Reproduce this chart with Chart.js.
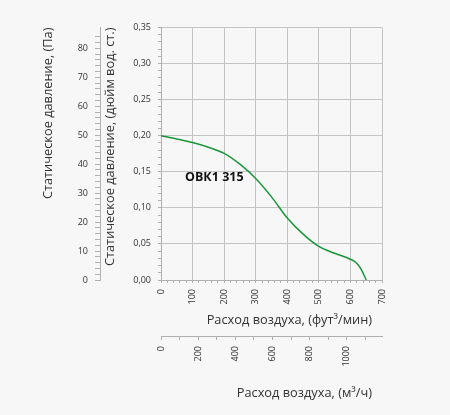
<!DOCTYPE html>
<html>
<head>
<meta charset="utf-8">
<script src="https://cdn.jsdelivr.net/npm/chart.js@4/dist/chart.umd.min.js"></script>
<style>
  html, body { margin: 0; padding: 0; background: #f7f7f7; }
  #wrap { width: 450px; height: 415px; }
</style>
</head>
<body>
<div id="wrap"><canvas id="fan-chart"></canvas></div>
<script>
// fan curve: airflow (ft3/min) vs static pressure (in. wc)
const airflowCfm   = [0, 50, 100, 150, 200, 250, 300, 350, 400, 450, 500, 550, 600, 620, 635, 650];
const pressureInWc = [0.200, 0.1955, 0.1905, 0.184, 0.1755, 0.1605, 0.1407, 0.1152, 0.0859,
                      0.0636, 0.0465, 0.0370, 0.0288, 0.0233, 0.0140, 0.000];
const curveName = "ОВК1 315";
const curveNameAt = [76, 0.1426];   // x in cfm, y in in. wc

const cfmTicks = [0, 700, 100, 20];      // min, max, major, minor
const inWcTicks = [0, 0.35, 0.05, 0.01];
const paTicks = [10, 2];
const m3hTicks = [200, 100];

const CFM_TO_M3H = 1.699;
const INWC_TO_PA = 249.09;

const gridColor = "#c4c4c4";
const axisColor = "#b0b0b0";
const textColor = "#333";
const fontFam = "'Open Sans', sans-serif";
const titleSize = 12.8;
const pad = "\u00a0\u00a0\u00a0";   // nudges the bottom titles off the right edge

const isMult = (v, step) => Math.abs(v / step - Math.round(v / step)) < 1e-6;
const comma = v => v.toFixed(2).replace(".", ",");

Chart.defaults.font.family = fontFam;
Chart.defaults.color = textColor;

const bgPlugin = {
  id: "bg",
  beforeDraw(chart) {
    const c = chart.ctx;
    c.save();
    c.fillStyle = "#f7f7f7";
    c.fillRect(0, 0, chart.width, chart.height);
    c.restore();
  }
};

const namePlugin = {
  id: "curveName",
  afterDatasetsDraw(chart) {
    const c = chart.ctx;
    const px = chart.scales.x.getPixelForValue(curveNameAt[0]);
    const py = chart.scales.y.getPixelForValue(curveNameAt[1]);
    c.save();
    c.font = "bold 12.5px " + fontFam;
    c.fillStyle = "#111";
    c.textAlign = "left";
    c.textBaseline = "middle";
    c.fillText(curveName, px, py);
    c.restore();
  }
};

new Chart(document.getElementById("fan-chart"), {
  type: "line",
  data: {
    datasets: [{
      label: curveName,
      data: airflowCfm.map((x, i) => ({ x: x, y: pressureInWc[i] })),
      borderColor: "#1a963a",
      borderWidth: 1.5,
      pointRadius: 0,
      cubicInterpolationMode: "monotone",
      fill: false
    }]
  },
  options: {
    responsive: true,
    maintainAspectRatio: false,
    animation: false,
    layout: { padding: { left: 40, right: 68, top: 27.5, bottom: 13 } },
    plugins: { legend: { display: false }, tooltip: { enabled: false } },
    scales: {
      x: {
        type: "linear", position: "bottom",
        min: cfmTicks[0], max: cfmTicks[1],
        afterFit: s => { s.height = 56; },
        ticks: {
          stepSize: cfmTicks[3], autoSkip: false, minRotation: 90, maxRotation: 90,
          padding: 6, font: { size: 9 },
          callback: v => isMult(v, cfmTicks[2]) ? Math.round(v) : ""
        },
        grid: {
          color: c => c.tick && isMult(c.tick.value, cfmTicks[2]) ? gridColor : "transparent",
          tickColor: axisColor, tickLength: 3
        },
        border: { color: axisColor },
        title: {
          display: true, text: "Расход воздуха, (фут³/мин)" + pad, align: "end",
          font: { size: titleSize }, padding: { top: 0, bottom: 8.3 }
        }
      },
      x2: {
        type: "linear", position: "bottom",
        min: cfmTicks[0] * CFM_TO_M3H, max: cfmTicks[1] * CFM_TO_M3H,
        afterFit: s => { s.height = 66; },
        ticks: {
          stepSize: m3hTicks[1], autoSkip: false, minRotation: 90, maxRotation: 90,
          padding: 6, font: { size: 9 },
          callback: v => isMult(v, m3hTicks[0]) ? Math.round(v) : ""
        },
        grid: {
          drawOnChartArea: false,
          tickColor: c => c.tick && isMult(c.tick.value, m3hTicks[1]) ? axisColor : "transparent",
          tickLength: 4
        },
        border: { color: axisColor },
        title: {
          display: true, text: "Расход воздуха, (м³/ч)" + pad, align: "end",
          font: { size: titleSize }, padding: { top: 0, bottom: 1.3 }
        }
      },
      y: {
        type: "linear", position: "left",
        min: inWcTicks[0], max: inWcTicks[1],
        afterFit: s => { s.width = 61; },
        ticks: {
          stepSize: inWcTicks[3], autoSkip: false, padding: 7, font: { size: 9 },
          callback: v => isMult(v, inWcTicks[2]) ? comma(v) : ""
        },
        grid: {
          color: c => c.tick && isMult(c.tick.value, inWcTicks[2]) ? gridColor : "transparent",
          tickColor: axisColor, tickLength: 3
        },
        border: { color: axisColor },
        title: {
          display: true, text: "Статическое давление, (дюйм вод. ст.)", align: "end",
          font: { size: titleSize }, padding: { top: 2.3, bottom: 0 }
        }
      },
      y2: {
        type: "linear", position: "left",
        min: inWcTicks[0] * INWC_TO_PA, max: inWcTicks[1] * INWC_TO_PA,
        afterFit: s => { s.width = 60; },
        ticks: {
          stepSize: paTicks[1], autoSkip: false, padding: 7, font: { size: 9 },
          callback: v => isMult(v, paTicks[0]) ? Math.round(v) : ""
        },
        grid: {
          drawOnChartArea: false,
          tickColor: c => c.tick && isMult(c.tick.value, paTicks[1]) ? axisColor : "transparent",
          tickLength: 5
        },
        border: { color: axisColor },
        title: {
          display: true, text: "Статическое давление, (Па)", align: "end",
          font: { size: titleSize }, padding: { top: 0.3, bottom: 0 }
        }
      }
    }
  },
  plugins: [bgPlugin, namePlugin]
});
</script>
</body>
</html>
